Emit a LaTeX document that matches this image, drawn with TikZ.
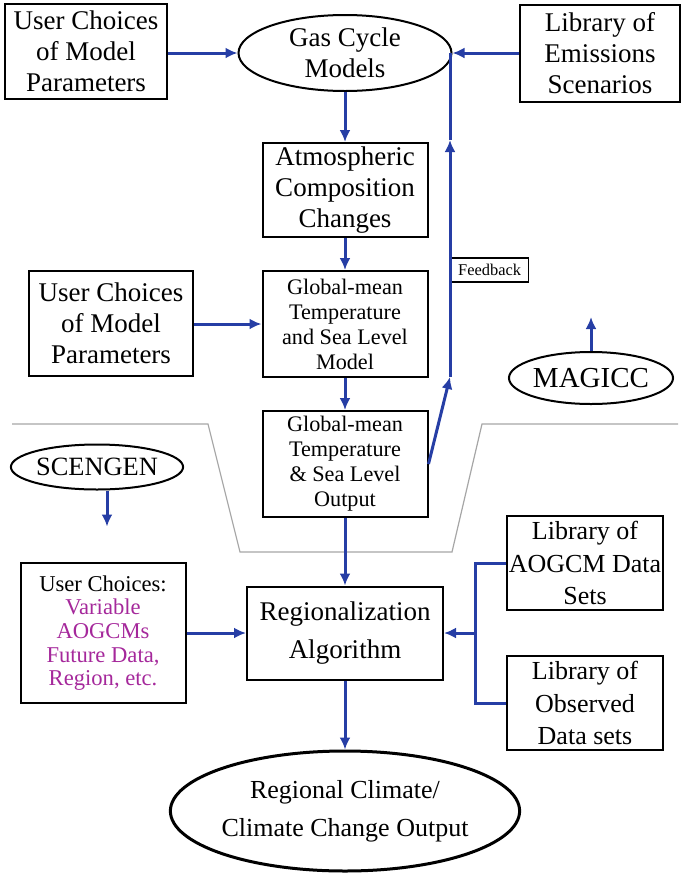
\documentclass[tikz,border=0pt]{standalone}
\usepackage{fontspec}
\setmainfont{Liberation Serif}
\usepackage{tikz}
\usetikzlibrary{positioning}
\usetikzlibrary{arrows.meta,shapes}
\definecolor{flowblue}{RGB}{38,62,165}
\definecolor{choicemag}{RGB}{165,40,155}
\tikzstyle{bigbox}=[rectangle,draw=black,line width=1pt,align=center,inner sep=0pt,font=\fontsize{13.5}{15.5}\selectfont]
\tikzstyle{smallbox}=[rectangle,draw=black,line width=1pt,align=center,inner sep=0pt,font=\fontsize{11.1}{12.5}\selectfont]
\tikzstyle{oval}=[ellipse,draw=black,line width=1pt,align=center,inner sep=0pt,font=\fontsize{13.5}{15.5}\selectfont]
\tikzstyle{fbbox}=[rectangle,draw=black,line width=0.6pt,inner sep=0pt,minimum width=39pt,minimum height=12pt,font=\fontsize{8.2}{9}\selectfont]
\tikzstyle{flow}=[-{Latex[length=6pt,width=5.5pt]},flowblue,line width=1.5pt]
\tikzstyle{link}=[-,flowblue,line width=1.5pt]
\tikzstyle{boundary}=[gray!70,line width=0.6pt]

\begin{document}
\begin{tikzpicture}[x=0.5pt,y=-0.5pt]
\useasboundingbox (0,0) rectangle (685,879);

%MAGICC
    \foreach \pos/\name/\w/\h/\label in {{(86,51)/uc1/81pt/47.5pt/{User Choices\\of Model\\Parameters}}, {(600,53)/libem/80pt/48.5pt/{Library of\\Emissions\\Scenarios}}, {(345,190)/atm/82.5pt/47pt/{Atmospheric\\Composition\\Changes}}, {(111,323)/uc2/82pt/52.5pt/{User Choices\\of Model\\Parameters}}}
        \node[bigbox,minimum width=\w,minimum height=\h] (\name) at \pos {\label};

    \foreach \pos/\name/\label in {{(345,324)/gmt/{Global-mean\\Temperature\\and Sea Level\\Model}}, {(345,464)/gmo/{Global-mean\\Temperature\\\& Sea Level\\Output}}}
        \node[smallbox,minimum width=82.5pt,minimum height=53pt] (\name) at \pos {\label};

\node[oval,minimum width=106.5pt,minimum height=38pt] (gas) at (345,53) {Gas Cycle\\Models};
\node[oval,minimum width=72.5pt,minimum height=26pt,font=\fontsize{14.5}{16}\selectfont] (magicc) at (591,378) {MAGICC};

  \foreach \source/ \dest in {uc1/gas, uc2/gmt}
          \draw[flow] (\source.east |- \dest) -- (\dest.west);
\draw[flow] (libem.west |- gas.east) -- (gas.east);
  \foreach \source/ \dest in {gas/atm, atm/gmt, gmt/gmo}
          \draw[flow] (\source.south) -- (\dest.north);
\draw[flow] (magicc.north) -- ++(0,-34);

%Feedback
\coordinate (fbbend) at (450,377);
\coordinate (fbmid) at (450,140);
\node[fbbox,anchor=west] (fb) at (450,270) {Feedback};
\draw[flow] (gmo.east) -- (fbbend);
\draw[flow] (fbbend) -- (fbmid);
\draw[link] (fbmid) -- (fbmid |- gas.east);

%Boundary
\draw[boundary] (12,424) -- (208,424) -- (240,552) -- (452,552) -- (482,424) -- (678,424);

%SCENGEN
\node[oval,minimum width=65pt,minimum height=22.5pt,font=\fontsize{13.2}{15}\selectfont] (scengen) at (97,467) {SCENGEN};
\draw[flow] ([xshift=5pt]scengen.south) -- ++(0,36);

\node[bigbox,minimum width=82.5pt,minimum height=70pt,font=\fontsize{11.3}{11.8}\selectfont] (uc3) at (103,633) {User Choices:\\\textcolor{choicemag}{Variable}\\\textcolor{choicemag}{AOGCMs}\\\textcolor{choicemag}{Future Data,}\\\textcolor{choicemag}{Region, etc.}};
\node[bigbox,minimum width=98pt,minimum height=46.5pt,font=\fontsize{13.5}{19}\selectfont] (reg) at (345,633) {Regionalization\\Algorithm};
    \foreach \pos/\name/\label in {{(585,563)/libao/{Library of\\AOGCM Data\\Sets}}, {(585,703)/libob/{Library of\\Observed\\Data sets}}}
        \node[bigbox,minimum width=78pt,minimum height=47pt,font=\fontsize{13}{16.3}\selectfont] (\name) at \pos {\label};
\node[oval,line width=1.5pt,minimum width=170pt,minimum height=60pt,font=\fontsize{13}{19}\selectfont] (out) at (345,811) {Regional Climate/\\Climate Change Output};

\coordinate (brk) at (475,633);
  \foreach \source in {libao, libob}
          \draw[link] (\source.west) -| (brk);
\draw[flow] (brk) -- (reg.east);
\draw[flow] (uc3.east) -- (reg.west);
  \foreach \source/ \dest in {gmo/reg, reg/out}
          \draw[flow] (\source.south) -- (\dest.north);

   \end{tikzpicture}
\end{document}
